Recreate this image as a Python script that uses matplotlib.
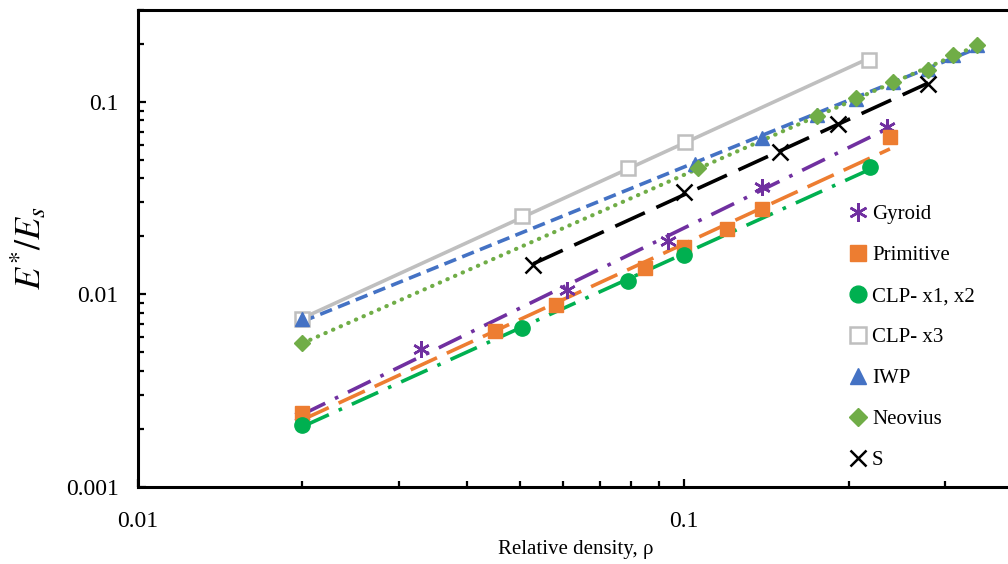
import numpy as np
import matplotlib.pyplot as plt
from matplotlib.ticker import LogLocator, NullFormatter, FuncFormatter

plt.rcParams['font.family'] = ['Liberation Serif', 'DejaVu Serif']
plt.rcParams['mathtext.fontset'] = 'stix'

# (relative density, E*/Es)
gyroid_x = [0.020, 0.033, 0.061, 0.0935, 0.139, 0.235]
gyroid_y = [0.00234, 0.0052, 0.0105, 0.0189, 0.0361, 0.0741]

primitive_x = [0.020, 0.0451, 0.0583, 0.0849, 0.0998, 0.120, 0.139, 0.238]
primitive_y = [0.00243, 0.00649, 0.00877, 0.01366, 0.0176, 0.0218, 0.0277, 0.0657]

clp12_x = [0.020, 0.0505, 0.0789, 0.0998, 0.219]
clp12_y = [0.0021, 0.00673, 0.0117, 0.016, 0.0459]

clp3_x = [0.020, 0.0505, 0.0789, 0.1005, 0.218]
clp3_y = [0.00741, 0.0255, 0.0453, 0.0619, 0.1655]

iwp_x = [0.020, 0.1048, 0.139, 0.175, 0.206, 0.241, 0.280, 0.311, 0.344]
iwp_y = [0.00741, 0.0475, 0.065, 0.0855, 0.1037, 0.127, 0.1485, 0.174, 0.196]

neovius_x = [0.020, 0.106, 0.175, 0.206, 0.241, 0.280, 0.311, 0.343]
neovius_y = [0.00556, 0.0453, 0.084, 0.104, 0.127, 0.147, 0.174, 0.196]

s_x = [0.0529, 0.0998, 0.150, 0.191, 0.280]
s_y = [0.01416, 0.034, 0.0549, 0.0768, 0.124]

series = [
    ('Gyroid', gyroid_x, gyroid_y, '#7030A0', (6, 2, 0), 12, (0, (7, 3, 1, 3))),
    ('Primitive', primitive_x, primitive_y, '#ED7D31', 's', 10, (0, (8, 3))),
    ('CLP- x1, x2', clp12_x, clp12_y, '#00B050', 'o', 11, (0, (8, 3, 1, 3))),
    ('CLP- x3', clp3_x, clp3_y, '#BFBFBF', 's', 10, '-'),
    ('IWP', iwp_x, iwp_y, '#4472C4', '^', 10, (0, (3.5, 1.8))),
    ('Neovius', neovius_x, neovius_y, '#70AD47', 'D', 8, (0, (0.1, 1.9))),
    ('S', s_x, s_y, 'black', 'x', 11, (0, (9, 3.5))),
]

fig = plt.figure(figsize=(10.08, 5.64), dpi=100)
ax = fig.add_axes([0.137, 0.1365, 0.868, 0.846])

handles = []
for name, xs, ys, col, mk, ms, ls in series:
    xs = np.array(xs)
    ys = np.array(ys)
    # power-law trendline
    b, a = np.polyfit(np.log10(xs), np.log10(ys), 1)
    xf = np.array([xs.min(), xs.max()])
    lw = 3.0 if name == 'Neovius' else 2.6
    line, = ax.plot(xf, 10 ** a * xf ** b, color=col, lw=lw, linestyle=ls, zorder=2)
    if name == 'Neovius':
        line.set_dash_capstyle('round')
    if name == 'CLP- x3':
        h, = ax.plot(xs, ys, linestyle='none', marker=mk, ms=ms, mfc='white',
                     mec=col, mew=1.8, zorder=3, label=name)
    elif mk in ('x', (6, 2, 0)):
        h, = ax.plot(xs, ys, linestyle='none', marker=mk, ms=ms, color=col,
                     mew=1.8, zorder=3, label=name)
    else:
        h, = ax.plot(xs, ys, linestyle='none', marker=mk, ms=ms, color=col,
                     mec=col, zorder=3, label=name)
    handles.append(h)

ax.set_xscale('log')
ax.set_yscale('log')
ax.set_xlim(0.01, 0.4)
ax.set_ylim(0.001, 0.3)

fmt = FuncFormatter(lambda v, p: '%g' % v)
for axis in (ax.xaxis, ax.yaxis):
    axis.set_major_locator(LogLocator(base=10, numticks=10))
    axis.set_minor_locator(LogLocator(base=10, subs=np.arange(2, 10), numticks=10))
    axis.set_major_formatter(fmt)
    axis.set_minor_formatter(NullFormatter())

ax.tick_params(which='both', direction='in', top=False, right=False,
               width=1.6, labelsize=17)
ax.tick_params(which='major', length=6)
ax.tick_params(which='minor', length=4)
ax.tick_params(axis='y', pad=14)
ax.tick_params(axis='x', pad=17)

for sp in ax.spines.values():
    sp.set_linewidth(2.2)

ax.set_xlabel('Relative density, ρ', fontsize=15, labelpad=6)
ax.set_ylabel(r'$E^{*}/E_{s}$', fontsize=26, labelpad=12)

fig.legend(handles=handles, loc='upper left', bbox_to_anchor=(0.835, 0.652),
           frameon=False, fontsize=15, handlelength=0.8, handletextpad=0.25,
           labelspacing=1.03, borderaxespad=0, markerscale=1.1)

fig.savefig('out.png', dpi=100)
